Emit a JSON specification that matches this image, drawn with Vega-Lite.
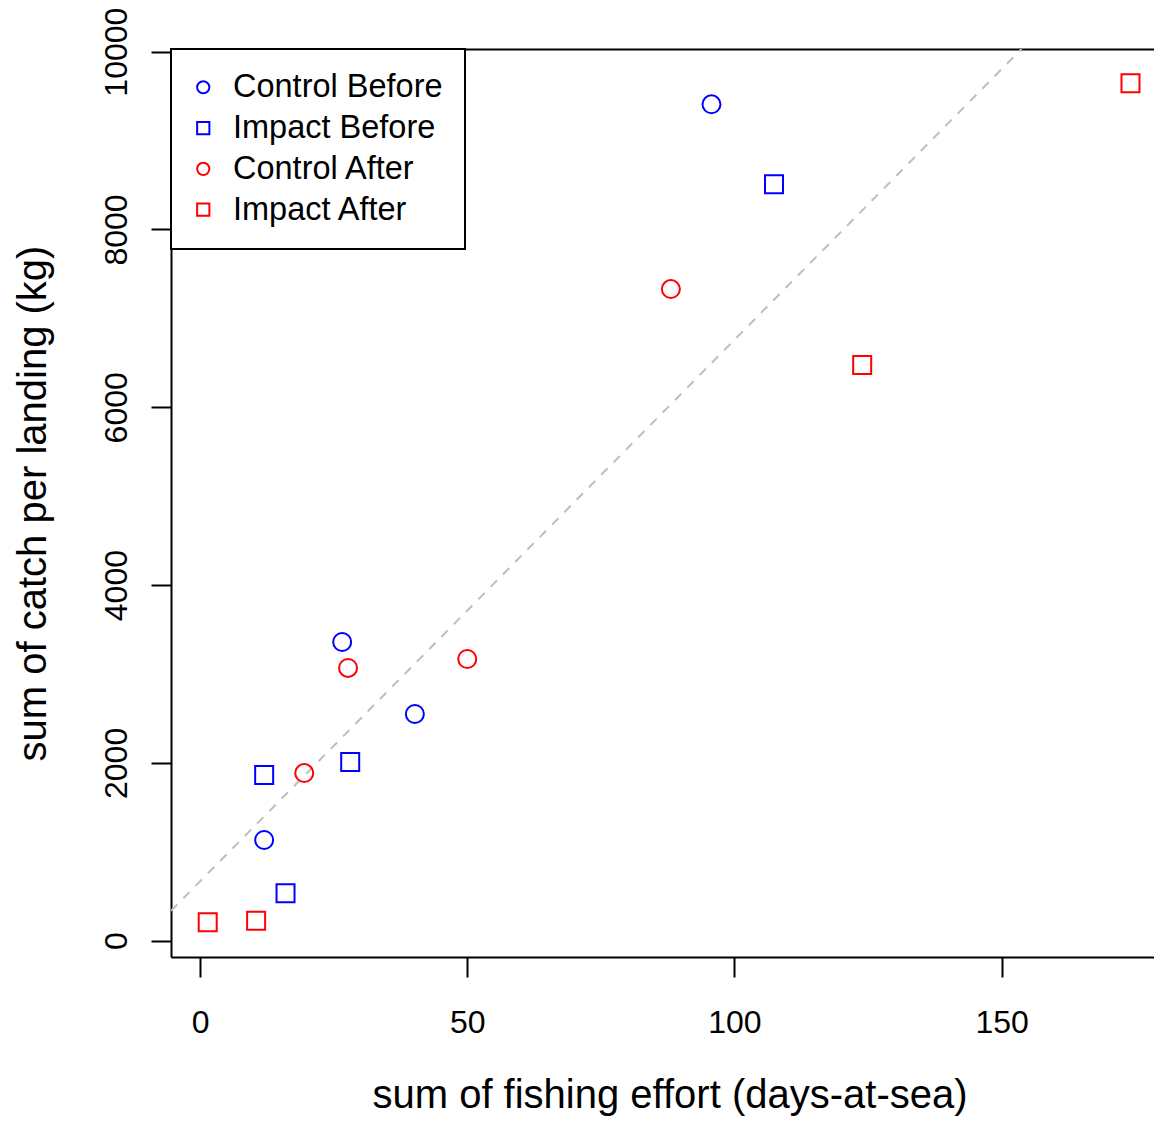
{
  "$schema": "https://vega.github.io/schema/vega-lite/v6.json",
  "width": 983,
  "height": 908,
  "autosize": {"type": "none"},
  "padding": {"left": 171, "top": 49, "right": 0, "bottom": 168},
  "background": "white",
  "config": {
    "view": {"stroke": null},
    "font": "Liberation Sans",
    "axis": {
      "grid": false,
      "domainColor": "black",
      "domainWidth": 2,
      "tickColor": "black",
      "tickWidth": 2,
      "tickSize": 20,
      "labelFont": "Liberation Sans",
      "labelFontSize": 32,
      "labelColor": "black",
      "titleFont": "Liberation Sans",
      "titleFontSize": 40,
      "titleFontWeight": "normal",
      "titleColor": "black"
    },
    "legend": {
      "orient": "none",
      "legendX": 0,
      "legendY": 0,
      "strokeColor": "black",
      "strokeWidth": 2,
      "fillColor": "white",
      "padding": 22,
      "labelFont": "Liberation Sans",
      "labelFontSize": 32.5,
      "labelColor": "black",
      "labelLimit": 400,
      "labelOffset": 13.5,
      "symbolOffset": -6,
      "rowPadding": 7.8,
      "symbolSize": 150,
      "symbolStrokeWidth": 2
    }
  },
  "datasets": {
    "points": [
      {"group": "Control Before", "effort": 95.7, "catch": 9408},
      {"group": "Control Before", "effort": 26.6, "catch": 3360},
      {"group": "Control Before", "effort": 40.2, "catch": 2550},
      {"group": "Control Before", "effort": 12.0, "catch": 1133},
      {"group": "Impact Before", "effort": 107.4, "catch": 8508},
      {"group": "Impact Before", "effort": 12.0, "catch": 1865},
      {"group": "Impact Before", "effort": 28.1, "catch": 2011},
      {"group": "Impact Before", "effort": 16.0, "catch": 533},
      {"group": "Control After", "effort": 88.1, "catch": 7330},
      {"group": "Control After", "effort": 27.7, "catch": 3068},
      {"group": "Control After", "effort": 50.0, "catch": 3169},
      {"group": "Control After", "effort": 19.5, "catch": 1886},
      {"group": "Impact After", "effort": 174.1, "catch": 9645},
      {"group": "Impact After", "effort": 123.9, "catch": 6476},
      {"group": "Impact After", "effort": 10.5, "catch": 225},
      {"group": "Impact After", "effort": 1.44, "catch": 207}
    ],
    "ref": [
      {"effort": -5.43, "catch": 337},
      {"effort": 153.7, "catch": 10030}
    ]
  },
  "layer": [
    {
      "data": {"name": "ref"},
      "mark": {"type": "line", "color": "#BEBEBE", "strokeWidth": 2, "strokeDash": [9, 8.5], "clip": true},
      "encoding": {
        "x": {
          "field": "effort",
          "type": "quantitative",
          "scale": {"domain": [-5.43, 178.5], "nice": false, "zero": false},
          "axis": {"orient": "top", "labels": false, "ticks": false, "title": null, "domain": true}
        },
        "y": {
          "field": "catch",
          "type": "quantitative",
          "scale": {"domain": [-183, 10030], "nice": false, "zero": false},
          "title": "sum of catch per landing (kg)"
        }
      }
    },
    {
      "data": {"name": "points"},
      "mark": {"type": "point", "filled": false, "size": 324, "strokeWidth": 2, "opacity": 1},
      "encoding": {
        "x": {
          "field": "effort",
          "type": "quantitative",
          "scale": {"domain": [-5.43, 178.5], "nice": false, "zero": false},
          "axis": {
            "orient": "bottom",
            "values": [0, 50, 100, 150],
            "format": "d",
            "title": "sum of fishing effort (days-at-sea)",
            "labelAngle": 0,
            "labelAlign": "center",
            "labelBaseline": "alphabetic",
            "labelPadding": 55,
            "titleX": 498.5,
            "titleY": 150,
            "titleAlign": "center",
            "titleBaseline": "alphabetic"
          }
        },
        "y": {
          "field": "catch",
          "type": "quantitative",
          "scale": {"domain": [-183, 10030], "nice": false, "zero": false},
          "title": "sum of catch per landing (kg)",
          "axis": {
            "values": [0, 2000, 4000, 6000, 8000, 10000],
            "format": "d",
            "labelAngle": 270,
            "labelAlign": "center",
            "labelBaseline": "alphabetic",
            "labelPadding": 25,
            "titleAngle": 270,
            "titleX": -125.5,
            "titleY": 454,
            "titleAlign": "center",
            "titleBaseline": "alphabetic"
          }
        },
        "color": {
          "field": "group",
          "type": "nominal",
          "scale": {
            "domain": ["Control Before", "Impact Before", "Control After", "Impact After"],
            "range": ["#0000FF", "#0000FF", "#FF0000", "#FF0000"]
          },
          "legend": {"title": null}
        },
        "shape": {
          "field": "group",
          "type": "nominal",
          "scale": {
            "domain": ["Control Before", "Impact Before", "Control After", "Impact After"],
            "range": ["circle", "square", "circle", "square"]
          },
          "legend": {"title": null}
        }
      }
    }
  ],
  "resolve": {"axis": {"x": "independent"}}
}
